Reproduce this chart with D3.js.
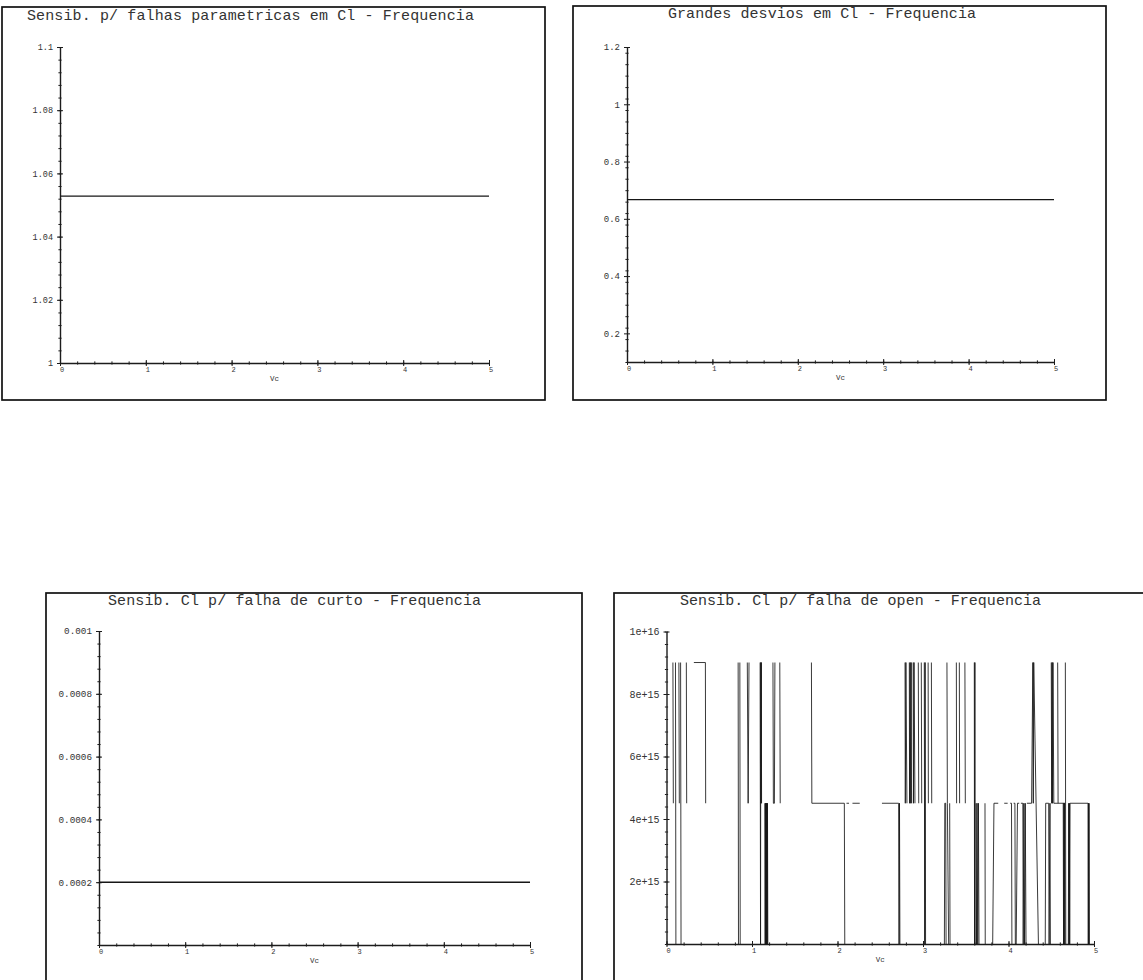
<!DOCTYPE html>
<html>
<head>
<meta charset="utf-8">
<script src="https://cdn.jsdelivr.net/npm/d3@7"></script>
<style>
  html, body { margin: 0; padding: 0; background: #fff; }
  svg { display: block; }
</style>
</head>
<body>
<svg id="chart" width="1143" height="980"></svg>
<script>
// ---------------- DATA ----------------
const titles = [
  "Sensib. p/ falhas parametricas em Cl - Frequencia",
  "Grandes desvios em Cl - Frequencia",
  "Sensib. Cl p/ falha de curto - Frequencia",
  "Sensib. Cl p/ falha de open - Frequencia"
];
const xLabel = "Vc";
const xTicks = [0, 1, 2, 3, 4, 5];
const xTickLabels = ["0", "1", "2", "3", "4", "5"];

// panel 1
const p1Ticks = [1, 1.02, 1.04, 1.06, 1.08, 1.1];
const p1Labels = ["1", "1.02", "1.04", "1.06", "1.08", "1.1"];
const p1Vc = [0, 1, 2, 3, 4, 5];
const p1Val = [1.0528, 1.0528, 1.0528, 1.0528, 1.0528, 1.0528];

// panel 2
const p2Ticks = [0.2, 0.4, 0.6, 0.8, 1, 1.2];
const p2Labels = ["0.2", "0.4", "0.6", "0.8", "1", "1.2"];
const p2Vc = [0, 1, 2, 3, 4, 5];
const p2Val = [0.667, 0.667, 0.667, 0.667, 0.667, 0.667];

// panel 3
const p3Ticks = [0.0002, 0.0004, 0.0006, 0.0008, 0.001];
const p3Labels = ["0.0002", "0.0004", "0.0006", "0.0008", "0.001"];
const p3Vc = [0, 1, 2, 3, 4, 5];
const p3Val = [0.0002, 0.0002, 0.0002, 0.0002, 0.0002, 0.0002];

// panel 4 (null = gap in the trace)
const p4Ticks = [2e15, 4e15, 6e15, 8e15, 1e16];
const p4Labels = ["2e+15", "4e+15", "6e+15", "8e+15", "1e+16"];
const p4Vc = [
  0.075,0.080,null,
  0.105,0.110,null,
  0.145,0.150,null,
  0.165,0.170,null,
  0.232,0.236,null,
  0.320,0.455,0.458,null,
  0.838,0.842,null,
  0.858,0.862,null,
  0.945,0.955,0.965,null,
  1.095,1.100,1.103,1.106,1.109,1.112,null,
  1.150,1.154,1.157,1.160,1.163,1.166,1.169,1.172,1.175,1.178,1.181,1.185,null,
  1.245,1.250,1.262,1.268,null,
  1.325,1.330,null,
  1.695,1.700,2.080,2.085,null,
  2.105,2.135,null,
  2.175,2.260,null,
  2.520,2.715,2.720,2.725,2.730,null,
  2.790,2.793,2.800,2.812,null,
  2.840,2.843,2.850,2.856,2.862,2.866,null,
  2.885,2.888,2.895,2.906,null,
  2.945,2.950,null,
  2.980,2.985,null,
  3.015,3.020,3.025,3.030,null,
  3.060,3.063,null,
  3.098,3.102,null,
  3.250,3.255,3.265,3.270,null,
  3.280,3.285,3.300,null,
  3.312,3.316,null,
  3.390,3.393,null,
  3.425,3.428,null,
  3.490,3.495,null,
  3.600,3.603,3.607,3.610,null,
  3.620,3.625,3.632,3.640,3.648,3.655,null,
  3.725,3.728,null,
  3.815,3.830,3.880,null,
  3.950,3.990,null,
  4.020,4.035,4.040,null,
  4.060,4.075,4.080,4.090,4.105,4.125,null,
  4.145,4.168,4.172,4.180,4.188,4.196,4.205,null,
  4.215,4.270,4.285,4.290,4.295,4.350,null,
  4.430,4.435,4.470,4.475,4.485,4.490,null,
  4.500,4.505,4.510,4.515,4.520,4.530,4.660,null,
  4.575,4.580,null,
  4.640,4.644,4.648,4.652,4.656,4.660,null,
  4.665,4.670,null,
  4.700,4.704,4.708,4.712,4.716,4.720,4.930,4.933,4.936,4.939,4.942,4.946
];
const p4Val = [
  9.007e15,4.504e15,null,
  9.007e15,0,null,
  9.007e15,4.504e15,null,
  9.007e15,0,null,
  9.007e15,4.504e15,null,
  9.007e15,9.007e15,4.504e15,null,
  9.007e15,0,null,
  9.007e15,0,null,
  9.007e15,4.504e15,9.007e15,null,
  9.007e15,0,9.007e15,4.504e15,9.007e15,4.504e15,null,
  4.504e15,0,4.504e15,0,4.504e15,0,4.504e15,0,4.504e15,0,4.504e15,0,null,
  9.007e15,4.504e15,4.504e15,9.007e15,null,
  9.007e15,4.504e15,null,
  9.007e15,4.504e15,4.504e15,0,null,
  4.504e15,4.504e15,null,
  4.504e15,4.504e15,null,
  4.504e15,4.504e15,0,4.504e15,0,null,
  9.007e15,4.504e15,9.007e15,4.504e15,null,
  9.007e15,4.504e15,9.007e15,4.504e15,9.007e15,4.504e15,null,
  9.007e15,4.504e15,9.007e15,4.504e15,null,
  9.007e15,4.504e15,null,
  9.007e15,4.504e15,null,
  9.007e15,0,9.007e15,0,null,
  9.007e15,4.504e15,null,
  9.007e15,4.504e15,null,
  0,4.504e15,4.504e15,0,null,
  9.007e15,4.504e15,0,null,
  4.504e15,0,null,
  9.007e15,4.504e15,null,
  9.007e15,4.504e15,null,
  9.007e15,4.504e15,null,
  9.007e15,0,9.007e15,0,null,
  4.504e15,0,4.504e15,0,4.504e15,0,null,
  4.504e15,0,null,
  0,4.504e15,4.504e15,null,
  4.504e15,4.504e15,null,
  4.504e15,4.504e15,0,null,
  4.504e15,4.504e15,0,0,4.504e15,4.504e15,null,
  4.504e15,4.504e15,0,4.504e15,0,4.504e15,0,null,
  4.504e15,4.504e15,9.007e15,4.504e15,9.007e15,0,null,
  0,4.504e15,4.504e15,0,4.504e15,0,null,
  9.007e15,4.504e15,9.007e15,4.504e15,9.007e15,4.504e15,4.504e15,null,
  9.007e15,4.504e15,null,
  4.504e15,0,4.504e15,0,4.504e15,0,null,
  9.007e15,0,null,
  0,4.504e15,0,4.504e15,0,4.504e15,4.504e15,0,4.504e15,0,4.504e15,0
];

// ---------------- LAYOUT ----------------
const panels = [
  { frame:[2,7,545,400], x0:60, x1:489, y0:363, y1:47, yDomain:[1,1.1], ticks:p1Ticks, labels:p1Labels,
    minorStep:0.004, title:titles[0], titleX:27, titleY:20, titleLen:447, labelSize:8.5,
    vc:p1Vc, val:p1Val, lw:1.4 },
  { frame:[573,6,1106,400], x0:627, x1:1054, y0:362, y1:47, yDomain:[0.1,1.2], ticks:p2Ticks, labels:p2Labels,
    minorStep:0.04, title:titles[1], titleX:668, titleY:18, titleLen:308, labelSize:9,
    vc:p2Vc, val:p2Val, lw:1.4 },
  { frame:[46,593,582,995], x0:99, x1:530, y0:945, y1:631, yDomain:[0,0.001], ticks:p3Ticks, labels:p3Labels,
    minorStep:0.00004, title:titles[2], titleX:108, titleY:605, titleLen:373, labelSize:9.3,
    vc:p3Vc, val:p3Val, lw:1.4 },
  { frame:[614,593,1160,995], x0:666.5, x1:1094, y0:944, y1:631.5, yDomain:[0,1e16], ticks:p4Ticks, labels:p4Labels,
    minorStep:4e14, title:titles[3], titleX:680, titleY:605, titleLen:361, labelSize:10,
    vc:p4Vc, val:p4Val, lw:0.85 }
];

const svg = d3.select("#chart");
const mono = "'Liberation Mono', 'DejaVu Sans Mono', monospace";
const ink = "#1c1c1c";

panels.forEach(p => {
  const g = svg.append("g");
  const [fx0, fy0, fx1, fy1] = p.frame;
  g.append("rect").attr("x", fx0).attr("y", fy0).attr("width", fx1 - fx0).attr("height", fy1 - fy0)
    .attr("fill", "none").attr("stroke", "#111").attr("stroke-width", 1.7);

  g.append("text").attr("x", p.titleX).attr("y", p.titleY).text(p.title)
    .attr("font-family", mono).attr("font-size", 15).attr("fill", "#333")
    .attr("textLength", p.titleLen).attr("lengthAdjust", "spacing");

  const x = d3.scaleLinear().domain([0, 5]).range([p.x0, p.x1]);
  const y = d3.scaleLinear().domain(p.yDomain).range([p.y0, p.y1]);

  // minor tick values
  const nY = Math.round((p.yDomain[1] - p.yDomain[0]) / p.minorStep);
  const yMinor = d3.range(0, nY + 1).map(i => p.yDomain[0] + i * p.minorStep);
  const xMinor = d3.range(0, 26).map(i => i * 0.2);

  const styleAxis = sel => {
    sel.selectAll("line").attr("stroke", ink).attr("stroke-width", 1);
    sel.selectAll("path.domain").attr("stroke", ink).attr("stroke-width", 1.4);
    sel.selectAll("text").attr("font-family", mono).attr("fill", "#333");
  };

  // Y axis
  const yAx = g.append("g").attr("transform", `translate(${p.x0},0)`);
  yAx.call(d3.axisLeft(y).tickValues(p.ticks).tickFormat((d, i) => p.labels[i])
      .tickSizeInner(3).tickSizeOuter(0).tickPadding(4));
  yAx.call(styleAxis);
  yAx.selectAll("text").attr("font-size", p.labelSize);
  const yAx2 = g.append("g").attr("transform", `translate(${p.x0},0)`);
  yAx2.call(d3.axisRight(y).tickValues(p.ticks).tickFormat("").tickSizeInner(3).tickSizeOuter(0));
  yAx2.select("path.domain").remove(); yAx2.call(styleAxis);
  const yMin1 = g.append("g").attr("transform", `translate(${p.x0},0)`);
  yMin1.call(d3.axisLeft(y).tickValues(yMinor).tickFormat("").tickSizeInner(1.6).tickSizeOuter(0));
  yMin1.select("path.domain").remove(); yMin1.call(styleAxis);
  const yMin2 = g.append("g").attr("transform", `translate(${p.x0},0)`);
  yMin2.call(d3.axisRight(y).tickValues(yMinor).tickFormat("").tickSizeInner(1.6).tickSizeOuter(0));
  yMin2.select("path.domain").remove(); yMin2.call(styleAxis);

  // X axis
  const xAx = g.append("g").attr("transform", `translate(0,${p.y0})`);
  xAx.call(d3.axisBottom(x).tickValues(xTicks).tickFormat((d, i) => xTickLabels[i])
      .tickSizeInner(3).tickSizeOuter(0).tickPadding(1));
  xAx.call(styleAxis);
  xAx.selectAll("text").attr("font-size", 7).attr("dx", 1.5);
  const xAx2 = g.append("g").attr("transform", `translate(0,${p.y0})`);
  xAx2.call(d3.axisTop(x).tickValues(xTicks).tickFormat("").tickSizeInner(3).tickSizeOuter(0));
  xAx2.select("path.domain").remove(); xAx2.call(styleAxis);
  const xMin1 = g.append("g").attr("transform", `translate(0,${p.y0})`);
  xMin1.call(d3.axisBottom(x).tickValues(xMinor).tickFormat("").tickSizeInner(1.6).tickSizeOuter(0));
  xMin1.select("path.domain").remove(); xMin1.call(styleAxis);
  const xMin2 = g.append("g").attr("transform", `translate(0,${p.y0})`);
  xMin2.call(d3.axisTop(x).tickValues(xMinor).tickFormat("").tickSizeInner(1.6).tickSizeOuter(0));
  xMin2.select("path.domain").remove(); xMin2.call(styleAxis);

  g.append("text").attr("x", x(2.5)).attr("y", p.y0 + 18).attr("text-anchor", "middle")
    .attr("font-family", mono).attr("font-size", 7.5).attr("fill", "#333").text(xLabel);

  // data line
  const pts = p.vc.map((v, i) => ({ v: v, y: p.val[i] }));
  const line = d3.line()
    .defined(d => d.v !== null && d.y !== null)
    .x(d => x(d.v)).y(d => y(d.y));
  g.append("path").datum(pts).attr("d", line)
    .attr("fill", "none").attr("stroke", "#161616").attr("stroke-width", p.lw)
    .attr("stroke-linejoin", "miter");
});
</script>
</body>
</html>
